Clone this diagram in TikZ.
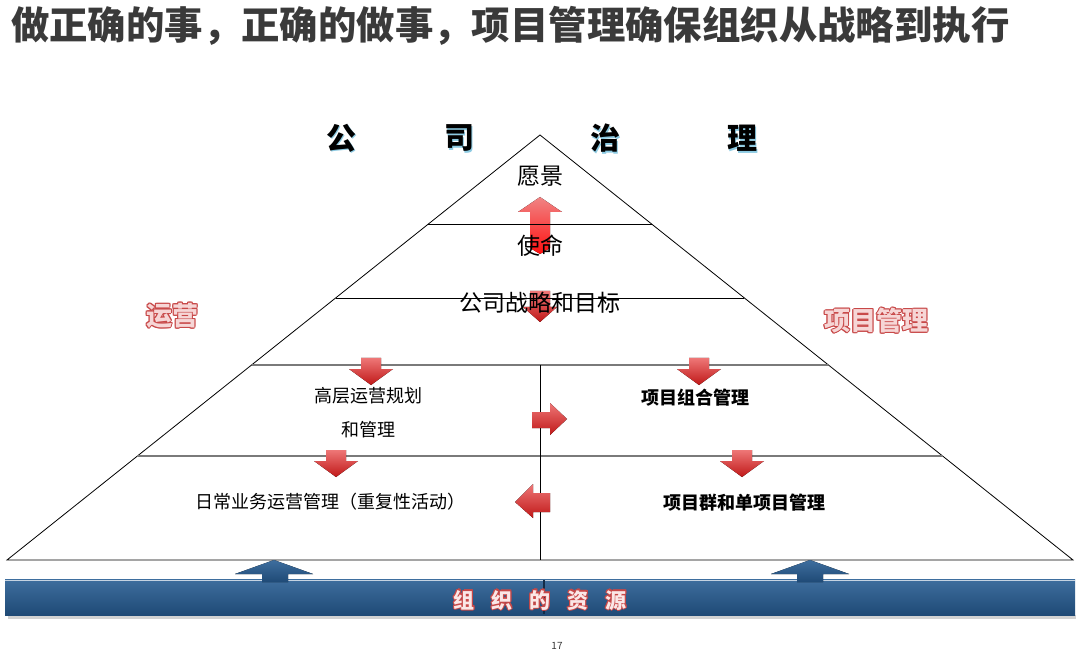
\documentclass[tikz,border=0pt]{standalone}
\usepackage{fontspec}
\setmainfont{Noto Sans CJK SC}
\usetikzlibrary{calc}
\definecolor{titlegray}{HTML}{3A3A3A}
\definecolor{arrtop}{HTML}{EE7777}
\definecolor{arrbot}{HTML}{C01818}
\definecolor{brightred}{HTML}{FF1010}
\definecolor{bluetop}{HTML}{3E6E9E}
\definecolor{bluebot}{HTML}{1F4A76}
\definecolor{pinkfill}{HTML}{F6D6D6}
\definecolor{redline}{HTML}{C84848}
\definecolor{shadowblue}{HTML}{8CCAE2}
\definecolor{linegray}{HTML}{7A7A7A}
\newcommand\darr[3]{\fill[redarr] (#1-10,#2) -- (#1+10,#2) -- (#1+10,#2+11) -- (#1+22,#2+11) -- (#1,#2+27) -- (#1-22,#2+11) -- (#1-10,#2+11) -- cycle;}
\newcommand\outlinetext[6]{%
  \foreach \dx/\dy in {-1/0,1/0,0/-1,0/1,-0.75/-0.75,0.75/0.75,-0.75/0.75,0.75/-0.75,1.4/1.4}
    \node[font=\fontsize{#4}{#4}\selectfont\bfseries, text=#6, xshift=\dx pt, yshift=\dy pt] at (#1) {#3};
  \node[font=\fontsize{#4}{#4}\selectfont\bfseries, text=#5] (#2) at (#1) {#3};}
\begin{document}
\begin{tikzpicture}[x=1pt,y=-1pt,
  redarr/.style={top color=arrtop, bottom color=arrbot, draw=none},
  bluearr/.style={top color=bluetop, bottom color=bluebot, draw=none},
  pyr/.style={draw=black, line width=0.8pt},
  tier/.style={draw=black, line width=0.7pt},
  tiergray/.style={draw=linegray, line width=1.4pt},
  body/.style={font=\fontsize{23}{23}\selectfont, text=black, inner sep=0pt},
  small/.style={font=\fontsize{18}{18}\selectfont, text=black, inner sep=0pt},
  smallb/.style={font=\fontsize{18}{18}\selectfont\bfseries, text=black, inner sep=0pt},
  gov/.style={font=\fontsize{30}{30}\selectfont\bfseries, inner sep=0pt}]
\useasboundingbox (0,0) rectangle (1080,655);
\fill[white] (0,0) rectangle (1080,655);

% title
\node[anchor=west, font=\fontsize{38.4}{38.4}\selectfont\bfseries, text=titlegray, inner sep=0pt] (title) at (11,26) {做正确的事，正确的做事，项目管理确保组织从战略到执行};

% pyramid
\coordinate (apex) at (540,135);
\coordinate (bl) at (7,560);
\coordinate (br) at (1073,560);
\coordinate (l1) at (428,224); \coordinate (r1) at (652,224);
\coordinate (l2) at (336,298); \coordinate (r2) at (744,298);
\coordinate (l3) at (252,365); \coordinate (r3) at (828,365);
\coordinate (l4) at (137,456); \coordinate (r4) at (943,456);
\coordinate (vt) at (540,365); \coordinate (vb) at (540,560);

% arrows behind text
\fill[top color=arrtop!90!white, bottom color=brightred, draw=none] (540,197) -- (562,212) -- (550,212) -- (550,248) -- (540,254) -- (530,248) -- (530,212) -- (518,212) -- cycle;
\fill[redarr] (530,291) -- (550,291) -- (550,307) -- (557,307) -- (540,322) -- (523,307) -- (530,307) -- cycle;

\draw[pyr] (bl) -- (apex) -- (br) -- cycle;
\draw[tier] (l1) -- (r1);
\draw[tier] (l2) -- (r2);
\draw[tiergray] (l3) -- (r3);
\draw[tiergray] (l4) -- (r4);
\draw[tier] (vt) -- (vb);

% governance
\node[gov, text=shadowblue, xshift=1.8pt, yshift=-1.8pt] at (341,138) {公};
\node[gov] (g1) at (341,138) {公};
\node[gov, text=shadowblue, xshift=1.8pt, yshift=-1.8pt] at (459,138) {司};
\node[gov] (g2) at (459,138) {司};
\node[gov, text=shadowblue, xshift=1.8pt, yshift=-1.8pt] at (605,138) {治};
\node[gov] (g3) at (605,138) {治};
\node[gov, text=shadowblue, xshift=1.8pt, yshift=-1.8pt] at (742,138) {理};
\node[gov] (g4) at (742,138) {理};

% tier texts
\node[body] (vision) at (540,176) {愿景};
\node[body] (mission) at (540,246) {使命};
\node[body] (strategy) at (540,303) {公司战略和目标};
\node[small] (plan1) at (368,396) {高层运营规划};
\node[small] (plan2) at (368,430) {和管理};
\node[smallb] (pfm) at (695,398) {项目组合管理};
\node[small] (daily) at (330,502) {日常业务运营管理（重复性活动）};
\node[smallb] (pgm) at (744,503) {项目群和单项目管理};

% side labels
\coordinate (opspos) at (172,316);
\outlinetext{opspos}{ops}{运营}{26}{pinkfill}{redline}
\coordinate (pmpos) at (876,321);
\outlinetext{pmpos}{pm}{项目管理}{26}{pinkfill}{redline}

% red arrows
\darr{371}{358}{}
\darr{699}{358}{}
\darr{336}{450}{}
\darr{742}{450}{}
\fill[redarr] (532,412) -- (550,412) -- (550,403) -- (567,419) -- (550,435) -- (550,428) -- (532,428) -- cycle;
\fill[redarr] (550,493) -- (533,493) -- (533,484) -- (515,502) -- (533,518) -- (533,512) -- (550,512) -- cycle;

% resources bar
\fill[gray!35] (8,615) rectangle (1076,619);
\fill[bluearr] (5,579) rectangle (1075,615);
\draw[white!70!bluetop, line width=1pt] (5,580) -- (1075,580);
\fill[bluearr] (274,560) -- (313,574) -- (288,574) -- (288,582) -- (262,582) -- (262,574) -- (235,574) -- cycle;
\fill[bluearr] (810,560) -- (849,574) -- (823,574) -- (823,582) -- (797,582) -- (797,574) -- (771,574) -- cycle;
\draw[bluebot!60!black, line width=1.2pt] (544,580) -- (544,614);
\coordinate (respos) at (540,600);
\outlinetext{respos}{res}{组\hspace{17pt}织\hspace{17pt}的\hspace{17pt}资\hspace{17pt}源}{21}{pinkfill!60!white}{redline}

\node[font=\fontsize{10}{10}\selectfont, text=titlegray] (pageno) at (557,646) {17};
\end{tikzpicture}
\end{document}
